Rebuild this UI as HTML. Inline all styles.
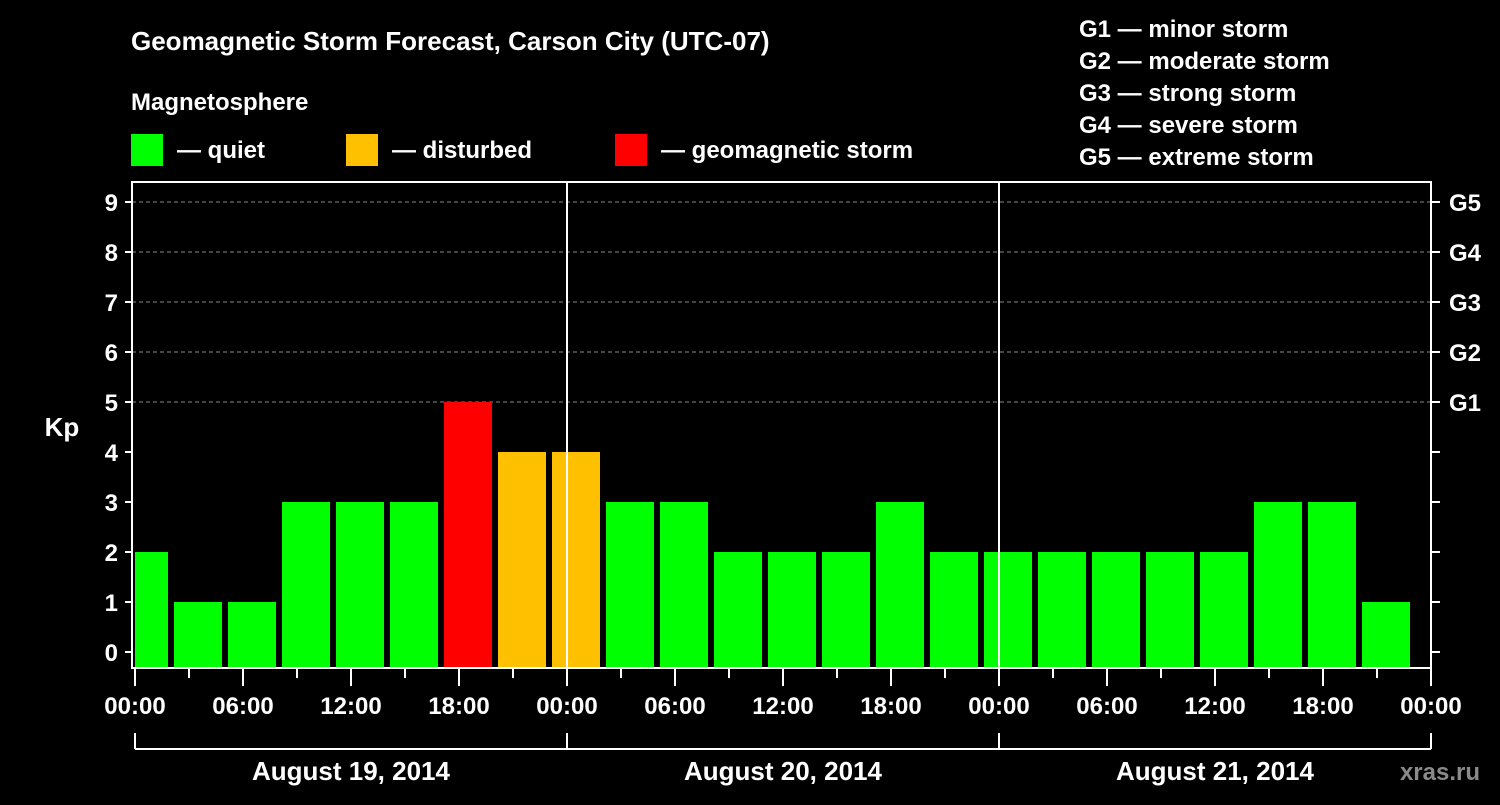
<!DOCTYPE html>
<html><head><meta charset="utf-8"><style>
body{margin:0;background:#000;width:1500px;height:800px;overflow:hidden}
svg text{font-family:"Liberation Sans",Arial,sans-serif;font-weight:bold;fill:#fff}
</style></head><body>
<svg id="c" width="1500" height="800">
<text x="131" y="50" font-size="26">Geomagnetic Storm Forecast, Carson City (UTC-07)</text>
<text x="131" y="110" font-size="24">Magnetosphere</text>
<g><rect x="131" y="134" width="32" height="32" fill="#00ff00"/><text x="177" y="158" font-size="24">— quiet</text></g>
<g><rect x="346" y="134" width="32" height="32" fill="#ffc000"/><text x="392" y="158" font-size="24">— disturbed</text></g>
<g><rect x="615" y="134" width="32" height="32" fill="#ff0000"/><text x="661" y="158" font-size="24">— geomagnetic storm</text></g>
<g font-size="24">
<text x="1079" y="37" font-size="24">G1 — minor storm</text>
<text x="1079" y="69" font-size="24">G2 — moderate storm</text>
<text x="1079" y="101" font-size="24">G3 — strong storm</text>
<text x="1079" y="133" font-size="24">G4 — severe storm</text>
<text x="1079" y="165" font-size="24">G5 — extreme storm</text>
</g>
<g id="plot"></g>
<text x="62" y="436" font-size="26" text-anchor="middle">Kp</text>
<text x="1480" y="780" font-size="24" text-anchor="end" fill="#888" style="fill:#8a8a8a">xras.ru</text>
</svg>
<script>
const kpValues=[2,1,1,3,3,3,5,4,4,3,3,2,2,2,3,2,2,2,2,2,2,3,3,1];
const dayLabels=["August 19, 2014","August 20, 2014","August 21, 2014"];
const timeLabels=["00:00","06:00","12:00","18:00"];
const gLabels=["G1","G2","G3","G4","G5"];
const NS="http://www.w3.org/2000/svg";
const X0=135,PXH=18,Y0=652,PKP=50,L=132,R=1431,T=182,B=668;
const xs=h=>X0+h*PXH, ys=k=>Y0-k*PKP;
const g=document.getElementById('plot');
function mk(t,a,p){const e=document.createElementNS(NS,t);for(const k in a)e.setAttribute(k,a[k]);(p||g).appendChild(e);return e;}
// grid
for(let k=5;k<=9;k++){const e=mk('line',{x1:L,x2:R,y1:ys(k),y2:ys(k),stroke:'#888','stroke-dasharray':'4,3','stroke-width':1});

}
// bars: first bin starts at -1h (23:00 previous day)
kpValues.forEach((v,i)=>{
 const h0=-1+i*3,h1=h0+3;
 let x0=Math.max(xs(h0)+3,L+3),x1=Math.min(xs(h1)-3,R-1);
 const col=v>=5?'#ff0000':v>=4?'#ffc000':'#00ff00';
 const e=mk('rect',{x:x0,y:ys(v),width:x1-x0,height:B-ys(v),fill:col});
 
 
});
// day separators
for(let d=1;d<3;d++){const e=mk('line',{x1:xs(d*24),x2:xs(d*24),y1:T,y2:B,stroke:'#fff','stroke-width':2});

}
// frame
const f=mk('rect',{x:L,y:T,width:R-L,height:B-T,fill:'none',stroke:'#fff','stroke-width':2});


// y ticks/labels
for(let k=0;k<=9;k++){
 mk('line',{x1:L-7,x2:L,y1:ys(k),y2:ys(k),stroke:'#fff','stroke-width':2});
 mk('line',{x1:R,x2:R+9,y1:ys(k),y2:ys(k),stroke:'#fff','stroke-width':2});
 const t=mk('text',{x:L-14,y:ys(k)+9,'font-size':24,'text-anchor':'end'});t.textContent=k;
 
 
}
gLabels.forEach((s,i)=>{const t=mk('text',{x:1449,y:ys(5+i)+9,'font-size':24});t.textContent=s;
 
 });
// x ticks
for(let h=0;h<=72;h+=3){const major=h%6===0;mk('line',{x1:xs(h),x2:xs(h),y1:B,y2:B+(major?18:10),stroke:'#fff','stroke-width':2});}
for(let h=0;h<=72;h+=6){const t=mk('text',{x:xs(h),y:714,'font-size':24,'text-anchor':'middle'});t.textContent=timeLabels[(h/6)%4];
 
 }
// date bracket
mk('line',{x1:xs(0),x2:xs(72),y1:749,y2:749,stroke:'#fff','stroke-width':2});
for(let d=0;d<=3;d++)mk('line',{x1:xs(d*24),x2:xs(d*24),y1:733,y2:749,stroke:'#fff','stroke-width':2});
dayLabels.forEach((s,i)=>{const t=mk('text',{x:xs(i*24+12),y:780,'font-size':26,'text-anchor':'middle'});t.textContent=s;
 
 });
</script>
</body></html>
